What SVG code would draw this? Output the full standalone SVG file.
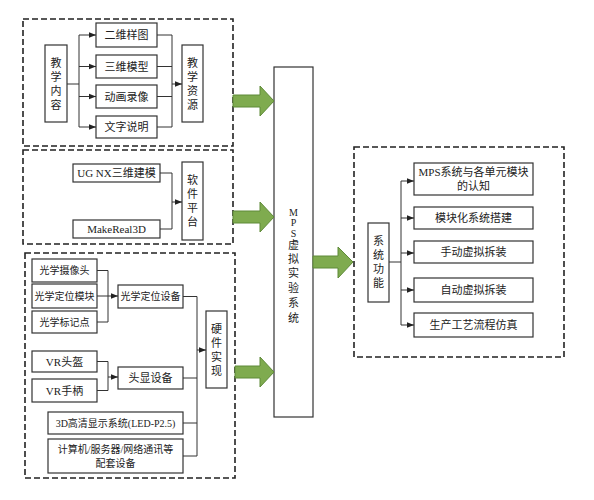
<svg xmlns="http://www.w3.org/2000/svg" width="594" height="500" viewBox="0 0 594 500">
<defs>
<style>
.bx{fill:#fff;stroke:#333;stroke-width:1.2}
.dash{fill:none;stroke:#222;stroke-width:1.6;stroke-dasharray:6,3}
.t{font-family:"Liberation Serif","Noto Sans CJK SC",serif;font-size:11px;fill:#222;text-anchor:middle;dominant-baseline:central}
.s{font-size:10px}
.m{font-size:10px}
.ln{fill:none;stroke:#333;stroke-width:1}
.ar{fill:none;stroke:#333;stroke-width:1;marker-end:url(#ah)}
.ga{fill:#7fab4f;stroke:#5e8a38;stroke-width:1}
</style>
<marker id="ah" viewBox="0 0 10 10" refX="10" refY="5" markerWidth="7" markerHeight="7" orient="auto" markerUnits="userSpaceOnUse">
<path d="M0,1 L10,5 L0,9 z" fill="#222"/>
</marker>
</defs>
<rect width="594" height="500" fill="#fff"/>

<!-- dashed groups -->
<rect class="dash" x="23" y="19" width="210" height="127"/>
<rect class="dash" x="23" y="150" width="210" height="94"/>
<rect class="dash" x="25" y="253" width="210" height="225"/>
<rect class="dash" x="354" y="147" width="210" height="210"/>

<g id="n-jxnr"><rect class="bx" x="45" y="45" width="22" height="77"/>
<text class="t" x="56" y="63">教</text><text class="t" x="56" y="77">学</text><text class="t" x="56" y="91">内</text><text class="t" x="56" y="105">容</text></g>
<g id="n-ewyt"><rect class="bx" x="96" y="23" width="61" height="24"/><text class="t" x="126.5" y="35">二维样图</text></g>
<g id="n-swmx"><rect class="bx" x="96" y="55" width="61" height="23"/><text class="t" x="126.5" y="66.5">三维模型</text></g>
<g id="n-dhlx"><rect class="bx" x="96" y="85" width="61" height="23"/><text class="t" x="126.5" y="96.5">动画录像</text></g>
<g id="n-wzsm"><rect class="bx" x="96" y="116" width="61" height="22"/><text class="t" x="126.5" y="127">文字说明</text></g>
<g id="n-jxzy"><rect class="bx" x="182" y="45" width="21" height="77"/>
<text class="t" x="192.5" y="63">教</text><text class="t" x="192.5" y="77">学</text><text class="t" x="192.5" y="91">资</text><text class="t" x="192.5" y="105">源</text></g>

<g id="n-ugnx"><rect class="bx" x="73" y="164" width="87" height="18"/><text class="t" x="116.5" y="173">UG NX三维建模</text></g>
<g id="n-mr3d"><rect class="bx" x="73" y="220" width="87" height="18"/><text class="t" x="116.5" y="229">MakeReal3D</text></g>
<g id="n-rjpt"><rect class="bx" x="182" y="162" width="21" height="78"/>
<text class="t" x="192.5" y="180">软</text><text class="t" x="192.5" y="194">件</text><text class="t" x="192.5" y="208">平</text><text class="t" x="192.5" y="222">台</text></g>

<g id="n-gxsxt"><rect class="bx" x="32" y="259" width="65" height="23"/><text class="t s" x="64.5" y="270.5">光学摄像头</text></g>
<g id="n-gxdwmk"><rect class="bx" x="32" y="284" width="65" height="24"/><text class="t s" x="64.5" y="296">光学定位模块</text></g>
<g id="n-gxbjd"><rect class="bx" x="32" y="311" width="65" height="22"/><text class="t s" x="64.5" y="322">光学标记点</text></g>
<g id="n-gxdwsb"><rect class="bx" x="118" y="285" width="65" height="23"/><text class="t s" x="150.5" y="296.5">光学定位设备</text></g>
<g id="n-vrtk"><rect class="bx" x="32" y="351" width="65" height="21"/><text class="t" x="64.5" y="361.5">VR头盔</text></g>
<g id="n-vrsb"><rect class="bx" x="32" y="379" width="65" height="23"/><text class="t" x="64.5" y="390.5">VR手柄</text></g>
<g id="n-txsb"><rect class="bx" x="118" y="367" width="65" height="22"/><text class="t" x="150.5" y="378">头显设备</text></g>
<g id="n-yjsx"><rect class="bx" x="206" y="311" width="21" height="77"/>
<text class="t" x="216.5" y="329">硬</text><text class="t" x="216.5" y="343">件</text><text class="t" x="216.5" y="357">实</text><text class="t" x="216.5" y="371">现</text></g>
<g id="n-3d"><rect class="bx" x="48" y="412" width="135" height="22"/><text class="t s" x="115.5" y="423">3D高清显示系统(LED-P2.5)</text></g>
<g id="n-jsj"><rect class="bx" x="48" y="439" width="135" height="34"/><text class="t s" x="115.5" y="449.5">计算机/服务器/网络通讯等</text><text class="t s" x="115.5" y="463">配套设备</text></g>

<g id="n-mps"><rect class="bx" x="274" y="67" width="39" height="350"/>
<text class="t m" x="293.5" y="212">M</text><text class="t m" x="293.5" y="222.5">P</text><text class="t m" x="293.5" y="233">S</text>
<text class="t" x="293.5" y="245">虚</text><text class="t" x="293.5" y="259">拟</text><text class="t" x="293.5" y="273">实</text><text class="t" x="293.5" y="288">验</text><text class="t" x="293.5" y="303">系</text><text class="t" x="293.5" y="318">统</text></g>

<g id="n-xtgn"><rect class="bx" x="368" y="223" width="21" height="79"/>
<text class="t" x="378.5" y="241">系</text><text class="t" x="378.5" y="255">统</text><text class="t" x="378.5" y="269">功</text><text class="t" x="378.5" y="283">能</text></g>
<g id="n-f1"><rect class="bx" x="414" y="163" width="119" height="32"/><text class="t" x="473.5" y="172">MPS系统与各单元模块</text><text class="t" x="473.5" y="186">的认知</text></g>
<g id="n-f2"><rect class="bx" x="414" y="207" width="119" height="22"/><text class="t" x="473.5" y="218">模块化系统搭建</text></g>
<g id="n-f3"><rect class="bx" x="414" y="241" width="119" height="22"/><text class="t" x="473.5" y="252">手动虚拟拆装</text></g>
<g id="n-f4"><rect class="bx" x="414" y="278" width="119" height="24"/><text class="t" x="473.5" y="290">自动虚拟拆装</text></g>
<g id="n-f5"><rect class="bx" x="414" y="313" width="119" height="24"/><text class="t" x="473.5" y="325">生产工艺流程仿真</text></g>

<g id="connectors">
<path class="ln" d="M67,84 H79 M79,35 V127"/>
<path class="ar" d="M79,35 H96"/><path class="ar" d="M79,66.5 H96"/><path class="ar" d="M79,96.5 H96"/><path class="ar" d="M79,127 H96"/>
<path class="ln" d="M157,35 H172 M157,66.5 H172 M157,96.5 H172 M157,127 H172 M172,35 V127"/>
<path class="ar" d="M172,84 H182"/>
<path class="ln" d="M160,173 H172 V229 H160"/>
<path class="ar" d="M172,202 H182"/>
<path class="ln" d="M97,270.5 H108 V322 H97 M97,296 H108"/>
<path class="ar" d="M108,296 H118"/>
<path class="ln" d="M97,361.5 H108 V390.5 H97"/>
<path class="ar" d="M108,377 H118"/>
<path class="ln" d="M183,296.5 H197 V456 H183 M183,378 H197 M183,423 H197"/>
<path class="ar" d="M197,350 H206"/>
<path class="ln" d="M389,262 H401 M401,181 V325"/>
<path class="ar" d="M401,181 H414"/><path class="ar" d="M401,218 H414"/><path class="ar" d="M401,253 H414"/><path class="ar" d="M401,290 H414"/><path class="ar" d="M401,325 H414"/>
<path class="ga" d="M233,95 H260 V86 L274,101 L260,116 V107 H233 Z"/>
<path class="ga" d="M233,211 H260 V202 L274,217 L260,232 V223 H233 Z"/>
<path class="ga" d="M235,366 H260 V357 L274,372 L260,387 V378 H235 Z"/>
<path class="ga" d="M313,256 H338 V247 L353,262 L338,278 V268 H313 Z"/>
</g>
</svg>
